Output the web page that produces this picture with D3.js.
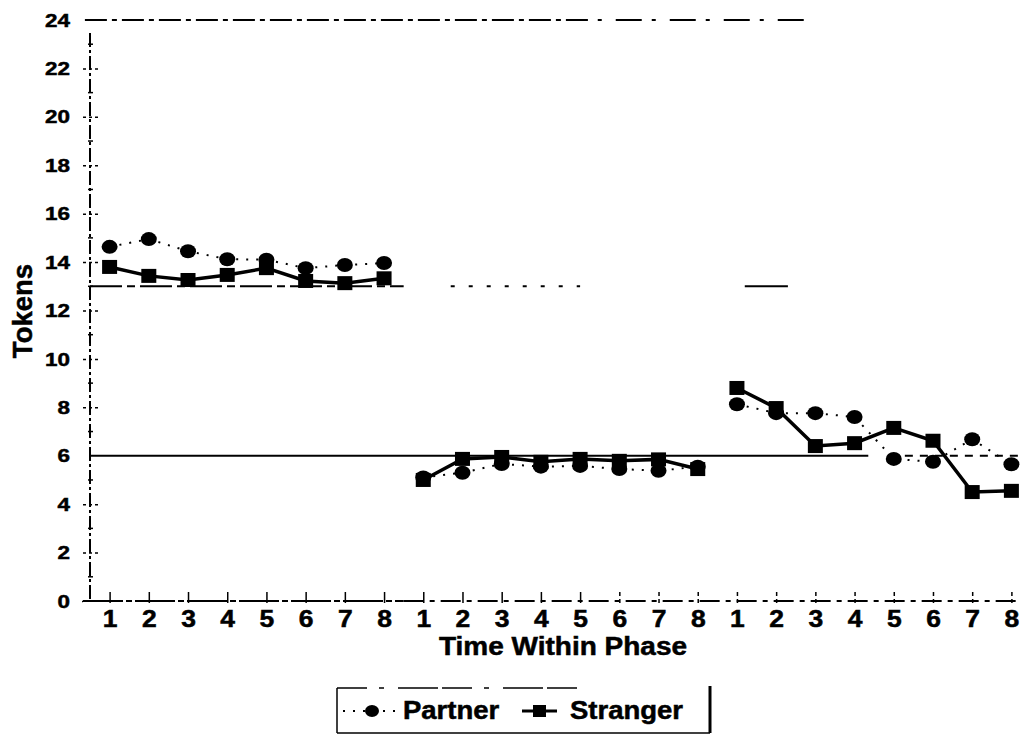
<!DOCTYPE html>
<html>
<head>
<meta charset="utf-8">
<script src="https://cdn.jsdelivr.net/npm/d3@7"></script>
<style>
  body { margin: 0; background: #fff; }
  text { font-family: "Liberation Sans", Arial, sans-serif; font-weight: bold; fill: #000; stroke: #000; stroke-width: 0.5px; }
</style>
</head>
<body>
<div id="chart"></div>
<script>
// values, one row per phase
const timeLabels = [1, 2, 3, 4, 5, 6, 7, 8];
const partner = [
  [14.63, 14.95, 14.45, 14.12, 14.1, 13.75, 13.88, 13.96],
  [5.1, 5.3, 5.66, 5.55, 5.58, 5.45, 5.38, 5.55],
  [8.13, 7.76, 7.76, 7.6, 5.87, 5.75, 6.68, 5.65]
];
const stranger = [
  [13.8, 13.43, 13.26, 13.47, 13.75, 13.22, 13.13, 13.33],
  [5.0, 5.87, 5.95, 5.75, 5.87, 5.79, 5.85, 5.45],
  [8.8, 7.97, 6.4, 6.52, 7.15, 6.62, 4.5, 4.55]
];
const yTicks = [0, 2, 4, 6, 8, 10, 12, 14, 16, 18, 20, 22, 24];
const refValues = [24, 13, 6];
const seriesNames = ["Partner", "Stranger"];
const xTitle = "Time Within Phase";
const yTitle = "Tokens";

drawchart()

function drawchart() {
  const width = 1021;
  const height = 736;
  const svg = d3.select("#chart")
    .append("svg")
    .attr("width", width)
    .attr("height", height);

  const nCat = timeLabels.length * partner.length;
  const x = d3.scalePoint()
    .domain(d3.range(nCat))
    .range([109.6, 1011.4]);
  // continuous version of the same scale, for fractional positions
  const xc = d3.scaleLinear()
    .domain([0, nCat - 1])
    .range([109.6, 1011.4]);
  const y = d3.scaleLinear()
    .domain([0, 24])
    .range([601, 20]);

  // reference lines (broken like the printed original)
  const refSegs = [
    { v: refValues[0], a: -0.63, b: 12.3, dash: "22,5,5,5" },
    { v: refValues[0], a: 12.45, b: 17.9, dash: "4,14,26,10" },
    { v: refValues[1], a: -0.5, b: 7.5, dash: "32,5,8,5" },
    { v: refValues[1], a: 8.7, b: 12.0, dash: "4,14" },
    { v: refValues[1], a: 16.2, b: 17.3, dash: null },
    { v: refValues[2], a: -0.5, b: 19.35, dash: null },
    { v: refValues[2], a: 19.9, b: 23.5, dash: "8,7" }
  ];
  svg.append("g")
    .selectAll("line")
    .data(refSegs)
    .enter()
    .append("line")
    .attr("x1", d => xc(d.a))
    .attr("x2", d => xc(d.b))
    .attr("y1", d => y(d.v))
    .attr("y2", d => y(d.v))
    .attr("stroke", "#000")
    .attr("stroke-width", 2)
    .attr("stroke-dasharray", d => d.dash);

  // y axis
  const gy = svg.append("g")
    .attr("transform", `translate(${90},0)`)
    .call(d3.axisLeft(y).tickValues(yTicks).tickSizeInner(8).tickSizeOuter(0).tickPadding(9));
  gy.select(".domain").remove();
  gy.selectAll(".tick line")
    .attr("x1", d => d == 0 ? -7 : 8)
    .attr("stroke-width", 1.5)
    .attr("stroke-dasharray", d => (d == 0) ? null : "3,3");
  gy.selectAll(".tick")
    .filter(d => d == 24 || d == 6)
    .select("line").remove();
  gy.selectAll(".tick text")
    .style("font-size", "19px")
    .attr("transform", "scale(1.18,1)");
  svg.append("line")
    .attr("x1", 90).attr("x2", 90)
    .attr("y1", 33).attr("y2", y(0))
    .attr("stroke", "#000")
    .attr("stroke-width", 2)
    .attr("stroke-dasharray", "14,3,3,3");
  // minor tick dots at odd values
  svg.append("g")
    .selectAll("line")
    .data(d3.range(1, 24, 2))
    .enter()
    .append("line")
    .attr("x1", 88).attr("x2", 93)
    .attr("y1", d => y(d)).attr("y2", d => y(d))
    .attr("stroke", "#000")
    .attr("stroke-width", 1.5);

  // x axis
  const gx = svg.append("g")
    .attr("transform", `translate(0,${y(0)})`)
    .call(d3.axisBottom(x)
      .tickFormat(i => timeLabels[i % timeLabels.length])
      .tickSizeInner(-9).tickSizeOuter(0).tickPadding(10));
  gx.select(".domain").remove();
  gx.selectAll(".tick line")
    .attr("y1", 2)
    .attr("stroke-width", 1.5)
    .attr("stroke-dasharray", (d, i) => i >= 13 ? "4,3" : null);
  gx.selectAll(".tick text")
    .style("font-size", "23px")
    .attr("transform", "scale(1.15,1)");
  gx.append("line")
    .attr("x1", 83).attr("x2", xc(7.5))
    .attr("stroke", "#000").attr("stroke-width", 2)
    .attr("stroke-dasharray", "40,3,6,3");
  gx.append("line")
    .attr("x1", xc(7.5)).attr("x2", width)
    .attr("stroke", "#000").attr("stroke-width", 2)
    .attr("stroke-dasharray", "20,6,5,6");

  // series, drawn phase by phase (no line across phases)
  const line = d3.line()
    .x(d => x(d.i))
    .y(d => y(d.v));
  const rows = (arr) => arr.map((r, p) => r.map((v, k) => ({ i: p * timeLabels.length + k, v: v })));

  const gp = svg.append("g");
  gp.selectAll("path")
    .data(rows(partner))
    .enter()
    .append("path")
    .attr("d", line)
    .attr("fill", "none")
    .attr("stroke", "#000")
    .attr("stroke-width", 2)
    .attr("stroke-dasharray", "2,8");
  gp.selectAll("circle")
    .data(rows(partner).flat())
    .enter()
    .append("ellipse")
    .attr("cx", d => x(d.i))
    .attr("cy", d => y(d.v))
    .attr("rx", 8)
    .attr("ry", 7)
    .attr("fill", "#000");

  const gs = svg.append("g");
  gs.selectAll("path")
    .data(rows(stranger))
    .enter()
    .append("path")
    .attr("d", line)
    .attr("fill", "none")
    .attr("stroke", "#000")
    .attr("stroke-width", 3.5);
  gs.selectAll("rect")
    .data(rows(stranger).flat())
    .enter()
    .append("rect")
    .attr("x", d => x(d.i) - 7.5)
    .attr("y", d => y(d.v) - 7)
    .attr("width", 15)
    .attr("height", 14)
    .attr("fill", "#000");

  // axis titles
  svg.append("text")
    .attr("transform", `translate(${563},${655}) scale(1.12,1)`)
    .attr("text-anchor", "middle")
    .style("font-size", "25px")
    .text(xTitle);
  svg.append("text")
    .attr("transform", `translate(${32},${311}) rotate(-90)`)
    .attr("text-anchor", "middle")
    .style("font-size", "27.5px")
    .text(yTitle);

  // legend
  const lg = svg.append("g").attr("id", "legend");
  lg.append("line").attr("x1", 337).attr("x2", 577).attr("y1", 688).attr("y2", 688)
    .attr("stroke", "#000").attr("stroke-width", 1.5).attr("stroke-dasharray", "30,12,5,14,40,4");
  lg.append("line").attr("x1", 337).attr("x2", 710).attr("y1", 733).attr("y2", 733)
    .attr("stroke", "#000").attr("stroke-width", 1.5);
  lg.append("line").attr("x1", 337).attr("x2", 337).attr("y1", 688).attr("y2", 733)
    .attr("stroke", "#000").attr("stroke-width", 1.5);
  lg.append("line").attr("x1", 710).attr("x2", 710).attr("y1", 686).attr("y2", 733)
    .attr("stroke", "#000").attr("stroke-width", 3);

  lg.append("line").attr("x1", 343).attr("x2", 396).attr("y1", 711).attr("y2", 711)
    .attr("stroke", "#000").attr("stroke-width", 2).attr("stroke-dasharray", "2,8");
  lg.append("ellipse").attr("cx", 372).attr("cy", 711).attr("rx", 7).attr("ry", 6).attr("fill", "#000");
  lg.append("text")
    .attr("transform", `translate(${403},${719}) scale(1.1,1)`)
    .style("font-size", "25px")
    .text(seriesNames[0]);

  lg.append("line").attr("x1", 522).attr("x2", 557).attr("y1", 711).attr("y2", 711)
    .attr("stroke", "#000").attr("stroke-width", 3);
  lg.append("rect").attr("x", 533).attr("y", 705).attr("width", 13).attr("height", 12).attr("fill", "#000");
  lg.append("text")
    .attr("transform", `translate(${570},${719}) scale(1.1,1)`)
    .style("font-size", "25px")
    .text(seriesNames[1]);
}
</script>
</body>
</html>
